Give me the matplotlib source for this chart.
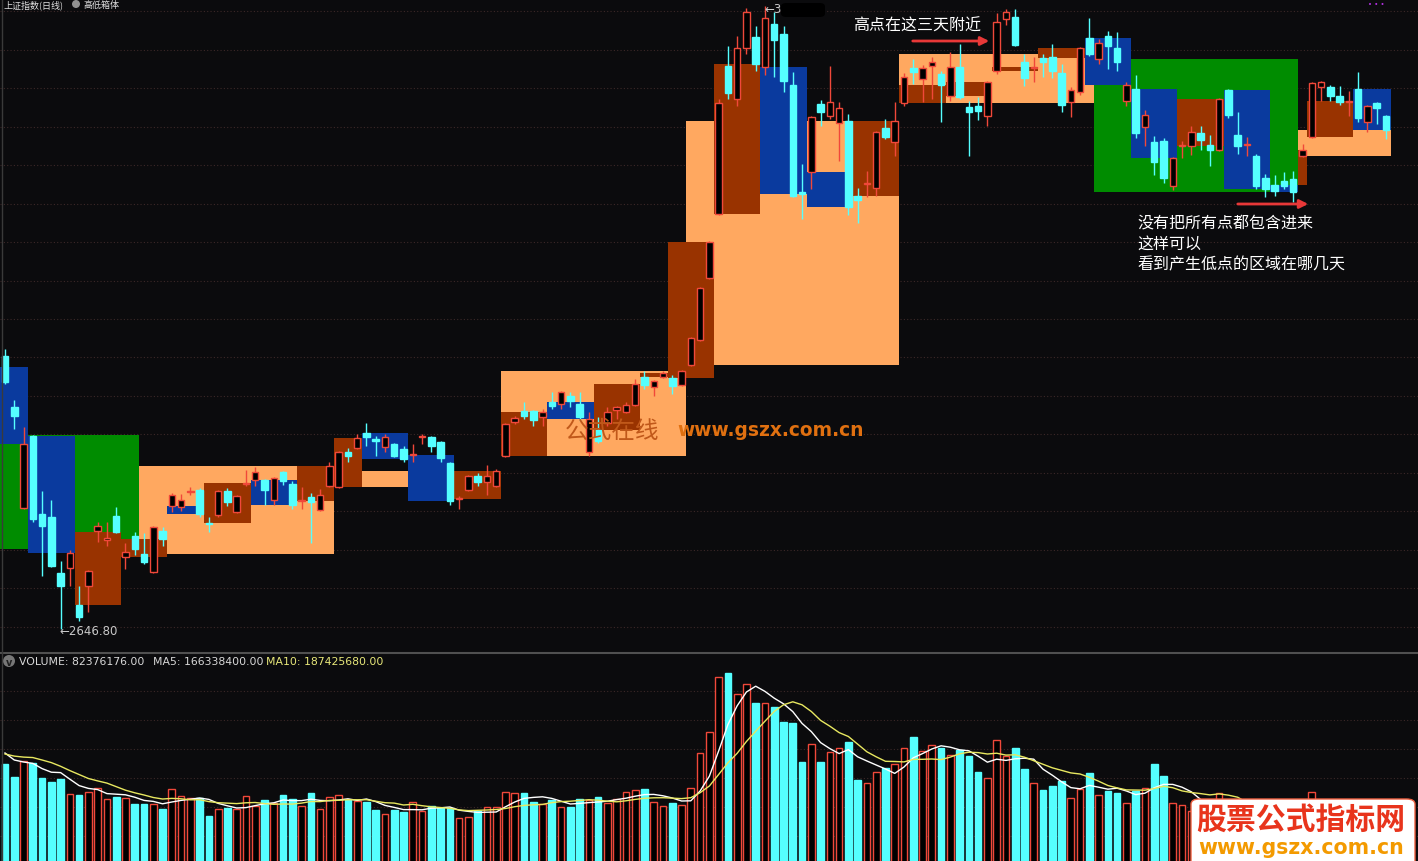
import numpy as np
import pandas as pd
import matplotlib
matplotlib.use("Agg")
import matplotlib.pyplot as plt
from matplotlib.patches import Rectangle, FancyBboxPatch, Ellipse, FancyArrowPatch

plt.rcParams['font.family'] = ['Noto Sans CJK SC', 'DejaVu Sans']

# SSE composite, daily, 2020-03-11 .. 2020-10-22
opens = [3002, 2936, 2804, 2898, 2797, 2793, 2720, 2726, 2678, 2703,
         2774, 2763, 2794, 2741, 2768, 2744, 2721, 2774, 2807, 2806,
         2825, 2828, 2785, 2795, 2826, 2799, 2835, 2841, 2841, 2815,
         2851, 2835, 2813, 2819, 2802, 2833, 2832, 2877, 2882, 2902,
         2894, 2884, 2888, 2881, 2873, 2897, 2897, 2890, 2863, 2816,
         2828, 2846, 2838, 2833, 2872, 2916, 2930, 2930, 2923, 2942,
         2940, 2950, 2940, 2877, 2906, 2915, 2932, 2929, 2938, 2975,
         2962, 2975, 2973, 2964, 2990, 3023, 3103, 3187, 3379, 3336,
         3402, 3417, 3378, 3434, 3421, 3354, 3215, 3241, 3330, 3314,
         3305, 3307, 3210, 3225, 3220, 3298, 3280, 3331, 3376, 3362,
         3379, 3369, 3340, 3378, 3326, 3327, 3314, 3372, 3440, 3443,
         3384, 3376, 3389, 3391, 3370, 3332, 3345, 3415, 3388, 3418,
         3402, 3333, 3349, 3300, 3280, 3281, 3223, 3275, 3275, 3292,
         3276, 3270, 3348, 3289, 3276, 3262, 3233, 3224, 3229, 3232,
         3262, 3287, 3352, 3352, 3340, 3332, 3349, 3306, 3331, 3314]
highs = [3011, 2945, 2910, 2899, 2826, 2815, 2735, 2750, 2703, 2724,
         2786, 2786, 2806, 2759, 2773, 2772, 2781, 2780, 2824, 2822,
         2832, 2830, 2793, 2828, 2830, 2821, 2854, 2858, 2842, 2845,
         2852, 2839, 2832, 2824, 2829, 2864, 2878, 2882, 2900, 2915,
         2898, 2900, 2889, 2885, 2888, 2900, 2898, 2891, 2864, 2820,
         2847, 2850, 2860, 2855, 2915, 2924, 2942, 2932, 2933, 2955,
         2956, 2955, 2955, 2929, 2923, 2936, 2937, 2942, 2972, 2982,
         2971, 2982, 2977, 2984, 3027, 3092, 3151, 3336, 3405, 3418,
         3454, 3431, 3457, 3449, 3431, 3371, 3252, 3314, 3335, 3379,
         3332, 3317, 3220, 3242, 3294, 3310, 3332, 3370, 3388, 3380,
         3391, 3372, 3397, 3408, 3333, 3339, 3359, 3448, 3453, 3453,
         3395, 3391, 3395, 3408, 3382, 3352, 3403, 3441, 3414, 3424,
         3423, 3358, 3367, 3322, 3288, 3285, 3261, 3281, 3301, 3301,
         3289, 3337, 3349, 3319, 3287, 3264, 3238, 3237, 3241, 3242,
         3277, 3358, 3359, 3354, 3353, 3346, 3371, 3328, 3332, 3315]
lows = [2966, 2907, 2803, 2786, 2716, 2728, 2646.8, 2703, 2657, 2669,
        2760, 2755, 2772, 2725, 2743, 2731, 2720, 2755, 2799, 2800,
        2821, 2793, 2773, 2793, 2807, 2798, 2833, 2833, 2808, 2808,
        2834, 2803, 2803, 2759, 2800, 2832, 2830, 2864, 2881, 2885,
        2872, 2877, 2871, 2864, 2864, 2888, 2877, 2864, 2808, 2803,
        2826, 2833, 2821, 2832, 2871, 2914, 2920, 2911, 2911, 2933,
        2933, 2936, 2917, 2872, 2889, 2911, 2920, 2928, 2937, 2959,
        2950, 2973, 2952, 2963, 2989, 3021, 3102, 3185, 3336, 3327,
        3395, 3372, 3367, 3365, 3345, 3209, 3180, 3219, 3301, 3310,
        3255, 3185, 3175, 3209, 3210, 3284, 3262, 3327, 3356, 3332,
        3336, 3306, 3333, 3336, 3262, 3309, 3301, 3368, 3432, 3405,
        3353, 3358, 3365, 3363, 3319, 3313, 3341, 3392, 3382, 3375,
        3372, 3327, 3285, 3275, 3237, 3227, 3218, 3259, 3263, 3270,
        3249, 3268, 3311, 3264, 3262, 3219, 3209, 3210, 3219, 3202,
        3261, 3285, 3333, 3333, 3328, 3314, 3306, 3293, 3303, 3284]
closes = [2968, 2924, 2888, 2790, 2781, 2729, 2703, 2746, 2663, 2722,
          2781, 2765, 2773, 2747, 2751, 2734, 2780, 2764, 2821, 2815,
          2826, 2797, 2783, 2826, 2812, 2820, 2837, 2851, 2828, 2843,
          2839, 2808, 2815, 2812, 2821, 2859, 2877, 2872, 2895, 2897,
          2891, 2897, 2872, 2868, 2875, 2898, 2885, 2869, 2813, 2817,
          2846, 2838, 2846, 2852, 2914, 2921, 2924, 2919, 2929, 2937,
          2955, 2943, 2923, 2920, 2891, 2929, 2936, 2938, 2966, 2964,
          2969, 2980, 2963, 2982, 3025, 3090, 3150, 3331, 3344, 3402,
          3449, 3382, 3441, 3413, 3359, 3210, 3213, 3313, 3319, 3332,
          3324, 3196, 3205, 3227, 3293, 3287, 3307, 3365, 3371, 3376,
          3384, 3354, 3378, 3339, 3319, 3320, 3358, 3436, 3449, 3406,
          3363, 3378, 3384, 3372, 3328, 3348, 3402, 3395, 3409, 3405,
          3384, 3354, 3292, 3315, 3254, 3233, 3259, 3276, 3293, 3283,
          3270, 3336, 3315, 3275, 3277, 3223, 3219, 3216, 3223, 3215,
          3270, 3357, 3358, 3340, 3332, 3333, 3311, 3327, 3324, 3296]
# volume, millions
volumes = [254, 228, 260, 256, 226, 218, 224, 194, 192, 198,
           206, 184, 188, 186, 174, 174, 174, 164, 204, 190,
           186, 186, 150, 164, 166, 164, 190, 170, 182, 176,
           192, 184, 170, 196, 164, 188, 192, 182, 180, 178,
           162, 154, 162, 158, 178, 160, 170, 166, 166, 146,
           148, 160, 168, 168, 198, 196, 196, 178, 174, 182,
           168, 168, 184, 182, 188, 176, 184, 198, 202, 204,
           178, 170, 176, 172, 206, 276, 318, 428, 436, 394,
           414, 376, 376, 368, 338, 336, 258, 294, 258, 278,
           286, 298, 222, 216, 238, 246, 254, 286, 308, 280,
           292, 286, 272, 282, 270, 238, 226, 302, 270, 286,
           244, 216, 202, 210, 220, 186, 204, 236, 192, 200,
           196, 176, 200, 206, 254, 230, 176, 172, 160, 178,
           170, 196, 175, 165, 150, 178, 160, 150, 140, 170,
           160, 198, 175, 165, 170, 160, 178, 165, 150, 82]
prev_volumes = [270, 280, 265, 275, 270, 298, 280, 270, 278]
# opens of the week / month that started before the first visible day
first_week_open = 2987.2
first_month_open = 2899.3

holidays = ['2020-04-06', '2020-05-01', '2020-05-04', '2020-05-05',
            '2020-06-25', '2020-06-26', '2020-10-01', '2020-10-02',
            '2020-10-05', '2020-10-06', '2020-10-07', '2020-10-08']

days = pd.bdate_range('2020-03-11', '2020-10-22')
days = days[~days.isin(pd.to_datetime(holidays))]
n = len(closes)

W, H = 1418, 862
bg = '#0b0b0d'
red = '#f0483a'
cyan = '#55ffff'
c_orange = '#ffa860'
c_green = '#008c00'
c_brown = '#993300'
c_blue = '#0a3a9e'
grid_c = '#3c2828'

fig = plt.figure(figsize=(W / 100, H / 100), dpi=100, facecolor=bg)


def fx(x):
    return x / W


def fy(y):
    return 1 - y / H


ax = fig.add_axes([0, fy(652), 1, 652 / H])
ax.set_facecolor(bg)
x0 = -5 / 9.268
ax.set_xlim(x0, x0 + W / 9.268)
ax.set_ylim(3466 - 1.3 * 652, 3466)
ax.axis('off')

for p in range(2650, 3451, 50):
    ax.axhline(p, color=grid_c, lw=0.8, ls=(0, (1, 2)), zorder=0)


def groups(keys):
    out = []
    s = 0
    for i in range(1, n + 1):
        if i == n or keys[i] != keys[s]:
            out.append((s, i - 1))
            s = i
    return out


def draw_boxes(keys, first_open, up_c, dn_c, z, carry=False):
    prev_s = 0
    for k, (s, e) in enumerate(groups(list(keys))):
        o = first_open if k == 0 else opens[s]
        # a week cut short by a holiday keeps the open of the days before it
        if carry and k > 0 and days[s].weekday() > days[s - 1].weekday():
            o = opens[prev_s]
        c = closes[e]
        col = up_c if c >= o else dn_c
        ax.add_patch(Rectangle((s - 0.5, min(o, c)), e - s + 1, abs(c - o),
                               facecolor=col, edgecolor='none', zorder=z))
        prev_s = s


draw_boxes(days.to_period('M'), first_month_open, c_orange, c_green, 1)
draw_boxes(days.to_period('W'), first_week_open, c_brown, c_blue, 2, carry=True)

bw = 0.7
for i in range(n):
    o, h, l, c = opens[i], highs[i], lows[i], closes[i]
    if c > o:
        ax.vlines(i, c, h, color=red, lw=1, zorder=3)
        ax.vlines(i, l, o, color=red, lw=1, zorder=3)
        ax.add_patch(Rectangle((i - bw / 2, o), bw, max(c - o, 0.8),
                               facecolor='#000000', edgecolor=red, lw=1, zorder=4))
    else:
        ax.vlines(i, l, h, color=cyan, lw=1, zorder=3)
        ax.add_patch(Rectangle((i - bw / 2, c), bw, max(o - c, 0.8),
                               facecolor=cyan, edgecolor=cyan, lw=1, zorder=4))

ilow = int(np.argmin(lows))
ax.text(ilow - 0.1, lows[ilow] - 1.5, '\u2190' + f'{lows[ilow]:.2f}',
        fontsize=8.5, color='#c8c8c8', va='center', ha='left',
        family=['DejaVu Sans'], zorder=6)
ihigh = int(np.argmax(highs))
ax.text(ihigh - 0.1, highs[ihigh] - 3, '\u2190' + f'{highs[ihigh]:.2f}',
        fontsize=8.5, color='#c8c8c8', va='center', ha='left',
        family=['DejaVu Sans'], zorder=6)
fig.patches.append(FancyBboxPatch((fx(781), fy(18)), fx(44), 14 / H,
                                  boxstyle='round,pad=0,rounding_size=0.004',
                                  transform=fig.transFigure, facecolor='#000000',
                                  edgecolor='none', zorder=10))

# volume panel
ax2 = fig.add_axes([0, 0, 1, 206 / H])
ax2.set_facecolor(bg)
ax2.set_xlim(ax.get_xlim())
ax2.set_ylim(60, 472)
ax2.axis('off')
for v in [400, 342, 284, 226, 168, 110]:
    ax2.axhline(v, color=grid_c, lw=0.8, ls=(0, (1, 2)), zorder=0)

idx = np.arange(n)
up = np.array(closes) > np.array(opens)
ax2.bar(idx[up], np.array(volumes)[up], width=0.72, facecolor='#000000',
        edgecolor=red, lw=1, zorder=2)
ax2.bar(idx[~up], np.array(volumes)[~up], width=0.72, facecolor=cyan,
        edgecolor=cyan, lw=1, zorder=2)
vall = pd.Series(prev_volumes + volumes, dtype=float)
ma5 = vall.rolling(5).mean().values[-n:]
ma10 = vall.rolling(10).mean().values[-n:]
ax2.plot(idx, ma5, color='#ffffff', lw=1, zorder=3)
ax2.plot(idx, ma10, color='#e8e860', lw=1, zorder=3)

fig.add_artist(plt.Line2D([0, 1], [fy(654), fy(654)], transform=fig.transFigure,
                          color='#505050', lw=1.5))
fig.add_artist(plt.Line2D([fx(1.5), fx(1.5)], [0, 1], transform=fig.transFigure,
                          color='#3a3a3a', lw=1))

# title row at the very top
fig.text(fx(3), fy(0.5), '上证指数(日线)', color='#e0e0e0', fontsize=6.5, va='top')
fig.patches.append(Ellipse((fx(76), fy(5)), 8 / W, 8 / H, transform=fig.transFigure,
                           facecolor='#909090', edgecolor='none'))
fig.text(fx(83), fy(0.5), '高低箱体', color='#e0e0e0', fontsize=6.5, va='top')

# volume header
fig.patches.append(Ellipse((fx(9), fy(662)), 12 / W, 12 / H, transform=fig.transFigure,
                           facecolor='#777777', edgecolor='none'))
fig.text(fx(9), fy(663.5), 'v', color='#202020', fontsize=7, ha='center',
         va='center', family=['DejaVu Sans'], fontweight='bold')
fig.text(fx(19), fy(662), 'VOLUME: 82376176.00', color='#d8d8d8', fontsize=7.8,
         va='center', family=['DejaVu Sans'])
fig.text(fx(153), fy(662), 'MA5: 166338400.00', color='#d8d8d8', fontsize=7.8,
         va='center', family=['DejaVu Sans'])
fig.text(fx(266), fy(662), 'MA10: 187425680.00', color='#e8e87a', fontsize=7.8,
         va='center', family=['DejaVu Sans'])

# annotations
fig.text(fx(853), fy(26), '高点在这三天附近', color='white', fontsize=11.5, va='center')
fig.text(fx(1137), fy(223), '没有把所有点都包含进来', color='white', fontsize=11.5, va='center')
fig.text(fx(1137), fy(244), '这样可以', color='white', fontsize=11.5, va='center')
fig.text(fx(1137), fy(265), '看到产生低点的区域在哪几天', color='white', fontsize=11.5, va='center')
for (xa, xb, ya) in [(910, 992, 42), (1235, 1311, 205)]:
    fig.add_artist(FancyArrowPatch(
        (fx(xa), fy(ya)), (fx(xb), fy(ya)), transform=fig.transFigure,
        arrowstyle='-|>,head_length=5,head_width=2.5', color='#e83838', lw=2))

# watermarks
fig.text(fx(565), fy(431), '公式在线', color='#c0581a', fontsize=17, va='center')
fig.text(fx(677), fy(431), 'www.gszx.com.cn', color='#e07010', fontsize=13.4,
         fontweight='bold', va='center', family=['DejaVu Sans'])

fig.patches.append(FancyBboxPatch((fx(1191), fy(870)), fx(224), 70 / H,
                                  boxstyle='round,pad=0,rounding_size=0.006',
                                  transform=fig.transFigure, facecolor='white',
                                  edgecolor='#f06040', lw=1, zorder=10))
fig.text(fx(1301), fy(820), '股票公式指标网', color='#e8341c', fontsize=21.5,
         fontweight='bold', ha='center', va='center', zorder=11)
fig.text(fx(1301), fy(848), 'www.gszx.com.cn', color='#f39a00', fontsize=14.8,
         fontweight='bold', ha='center', va='center', family=['DejaVu Sans'], zorder=11)

fig.text(fx(1376), fy(5), '\u2022 \u2022 \u2022', color='#b030e0', fontsize=5, ha='center',
         va='center', family=['DejaVu Sans'])

fig.savefig('out.png', dpi=100, facecolor=bg)
